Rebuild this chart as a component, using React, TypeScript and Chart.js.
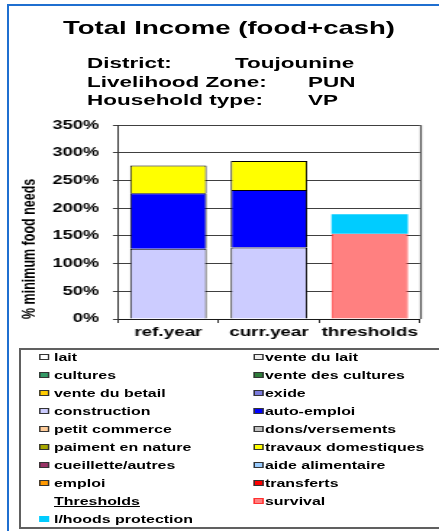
import React, { useEffect, useRef } from "react";
import { Chart, registerables } from "chart.js";

Chart.register(...registerables);

// ---------- data ----------
const categories = ["ref.year", "curr.year", "thresholds"];

const lait = [0, 0, 0];
const venteDuLait = [0, 0, 0];
const cultures = [0, 0, 0];
const venteDesCultures = [0, 0, 0];
const venteDuBetail = [0, 0, 0];
const exide = [0, 0, 0];
const construction = [127, 129, 0];
const autoEmploi = [100, 104, 0];
const petitCommerce = [0, 0, 0];
const donsVersements = [0, 0, 0];
const paimentEnNature = [0, 0, 0];
const travauxDomestiques = [50, 52, 0];
const cueilletteAutres = [0, 0, 0];
const aideAlimentaire = [0, 0, 0];
const emploi = [0, 0, 0];
const transferts = [0, 0, 0];
const thresholdsHeader = [0, 0, 0];
const survival = [0, 0, 154];
const lhoodsProtection = [0, 0, 35];

const yTickValues = [0, 50, 100, 150, 200, 250, 300, 350];

const titleText = "Total Income (food+cash)";
const infoLabels = ["District:", "Livelihood Zone:", "Household type:"];
const infoValues = ["Toujounine", "PUN", "VP"];
const yAxisTitle = "% minimum food needs";

type Series = {
  name: string;
  data: number[];
  fill: string;
  border: string;
  header?: boolean;
  noMarkerBorder?: boolean;
};

const series: Series[] = [
  { name: "lait", data: lait, fill: "#FFFFFF", border: "#000000" },
  { name: "vente du lait", data: venteDuLait, fill: "#EDEDED", border: "#333333" },
  { name: "cultures", data: cultures, fill: "#339966", border: "#222222" },
  { name: "vente des cultures", data: venteDesCultures, fill: "#2E7D3A", border: "#222222" },
  { name: "vente du betail", data: venteDuBetail, fill: "#FFCC00", border: "#333333" },
  { name: "exide", data: exide, fill: "#7B7BDD", border: "#333333" },
  { name: "construction", data: construction, fill: "#CCCCFF", border: "#000000" },
  { name: "auto-emploi", data: autoEmploi, fill: "#0000FF", border: "#000000" },
  { name: "petit commerce", data: petitCommerce, fill: "#FFCC99", border: "#333333" },
  { name: "dons/versements", data: donsVersements, fill: "#C0C0C0", border: "#222222" },
  { name: "paiment en nature", data: paimentEnNature, fill: "#A8A800", border: "#222222" },
  { name: "travaux domestiques", data: travauxDomestiques, fill: "#FFFF00", border: "#000000" },
  { name: "cueillette/autres", data: cueilletteAutres, fill: "#993366", border: "#222222" },
  { name: "aide alimentaire", data: aideAlimentaire, fill: "#99CCFF", border: "#333333" },
  { name: "emploi", data: emploi, fill: "#FF9900", border: "#333333" },
  { name: "transferts", data: transferts, fill: "#FF0000", border: "#222222" },
  { name: "Thresholds", data: thresholdsHeader, fill: "rgba(0,0,0,0)", border: "rgba(0,0,0,0)", header: true },
  { name: "survival", data: survival, fill: "#FF8080", border: "#FF2020" },
  { name: "l/hoods protection", data: lhoodsProtection, fill: "#00CCFF", border: "#00CCFF", noMarkerBorder: true },
];

// ---------- layout helpers ----------
const IW = 303; // internal (unstretched) width
const S = 439 / IW; // horizontal stretch of the whole figure
const px = (pageX: number) => pageX / S;
const FONT = '"Liberation Sans", Arial, Helvetica, sans-serif';

const CANVAS_TOP = 108;
const CANVAS_H = 232;

const rightBorder = {
  id: "rightBorder",
  afterDatasetsDraw(chart: any) {
    const { ctx, chartArea } = chart;
    ctx.save();
    ctx.strokeStyle = "#555555";
    ctx.lineWidth = 1.3;
    ctx.beginPath();
    const x = Math.round(chartArea.right) + 0.5;
    ctx.moveTo(x, chartArea.top);
    ctx.lineTo(x, chartArea.bottom);
    ctx.stroke();
    ctx.restore();
  },
};

export default function App() {
  const canvasRef = useRef<HTMLCanvasElement | null>(null);

  useEffect(() => {
    const canvas = canvasRef.current;
    if (!canvas) return;
    const datasets = series.map((s) => {
      const hasData = s.data.some((v) => v !== 0);
      let borderWidth: any = hasData ? 1 : 0;
      if (s.name === "survival") borderWidth = { top: 0, left: 1, right: 1, bottom: 0 };
      if (s.name === "l/hoods protection") borderWidth = 0;
      return {
        label: s.name,
        data: s.data,
        backgroundColor: s.fill,
        borderColor: s.border,
        borderWidth,
        barPercentage: 0.76,
        categoryPercentage: 1,
        stack: "income",
      };
    });

    const chart = new Chart(canvas, {
      type: "bar",
      data: { labels: categories, datasets },
      options: {
        animation: false,
        responsive: false,
        devicePixelRatio: 1,
        layout: { padding: { left: 10, right: IW - px(420), top: 13, bottom: 0 } },
        plugins: {
          legend: { display: false },
          tooltip: { enabled: false },
          title: { display: false },
        },
        scales: {
          x: {
            stacked: true,
            grid: {
              offset: true,
              drawOnChartArea: false,
              drawTicks: true,
              tickLength: 4,
              color: "#333333",
            },
            border: { color: "#1a1a1a", width: 1 },
            ticks: {
              font: { family: FONT, size: 13, weight: "bold" },
              color: "#000",
              padding: 1.5,
              maxRotation: 0,
              autoSkip: false,
            },
            afterFit: (s: any) => {
              s.height = 21;
            },
          },
          y: {
            stacked: true,
            min: 0,
            max: 350,
            afterBuildTicks: (s: any) => {
              s.ticks = yTickValues.map((v) => ({ value: v }));
            },
            ticks: {
              callback: (v: any) => `${v}%`,
              font: { family: FONT, size: 12.5, weight: "bold" },
              color: "#000",
              padding: 9.6,
            },
            grid: { color: "#404040", lineWidth: 1, tickLength: 3.5 },
            border: { color: "#333333", width: 1 },
            title: {
              display: true,
              text: yAxisTitle,
              align: "start",
              font: { family: FONT, size: 12.5, weight: "bold" },
              color: "#000",
              padding: { top: 3, bottom: 0 },
            },
            afterFit: (s: any) => {
              s.width = px(118) - 10;
            },
          },
        },
      } as any,
      plugins: [rightBorder],
    });
    return () => chart.destroy();
  }, []);

  const rowY = (i: number) => 357.2 + 17.95 * i;

  return (
    <div
      style={{
        position: "absolute",
        left: 0,
        top: 0,
        width: 439,
        height: 531,
        overflow: "hidden",
        background: "#fff",
      }}
    >
      {/* blue outer frame (continues past the right and bottom edges) */}
      <div
        style={{
          position: "absolute",
          left: 7,
          top: 4,
          width: 520,
          height: 600,
          border: "2px solid #1F6FD0",
          boxSizing: "border-box",
        }}
      />
      {/* legend box (continues past the right edge) */}
      <div
        style={{
          position: "absolute",
          left: 19,
          top: 347.5,
          width: 460,
          height: 181.5,
          border: "2px solid #606060",
          boxSizing: "border-box",
        }}
      />
      {/* stretched content */}
      <div
        style={{
          position: "absolute",
          left: 0,
          top: 0,
          width: IW,
          height: 531,
          transform: `scaleX(${S})`,
          transformOrigin: "0 0",
          fontFamily: FONT,
          fontWeight: "bold",
          color: "#000",
        }}
      >
        <div
          style={{
            position: "absolute",
            left: px(229) - IW / 2,
            top: 18.2,
            width: IW,
            textAlign: "center",
            fontSize: 19,
            lineHeight: "19px",
            whiteSpace: "nowrap",
          }}
        >
          {titleText}
        </div>
        {infoLabels.map((lab, i) => {
          const tops = [55.2, 73.6, 92.2];
          const valueX = [235, 308, 308];
          return (
            <React.Fragment key={lab}>
              <div
                style={{
                  position: "absolute",
                  left: px(87),
                  top: tops[i],
                  fontSize: 15.5,
                  lineHeight: "15.5px",
                  whiteSpace: "nowrap",
                }}
              >
                {lab}
              </div>
              <div
                style={{
                  position: "absolute",
                  left: px(valueX[i]),
                  top: tops[i],
                  fontSize: 15.5,
                  lineHeight: "15.5px",
                  whiteSpace: "nowrap",
                }}
              >
                {infoValues[i]}
              </div>
            </React.Fragment>
          );
        })}
        <canvas
          ref={canvasRef}
          width={IW}
          height={CANVAS_H}
          style={{ position: "absolute", left: 0, top: CANVAS_TOP, width: IW, height: CANVAS_H }}
        />
        {series.map((s, i) => {
          const row = Math.floor(i / 2);
          const col = i % 2;
          const y = rowY(row);
          const markerX = col === 0 ? px(39.5) : px(253.3);
          const textX = col === 0 ? px(54) : px(265);
          return (
            <React.Fragment key={s.name}>
              {!s.header && (
                <div
                  style={{
                    position: "absolute",
                    left: markerX,
                    top: y - 3,
                    width: px(10.5),
                    height: 6,
                    background: s.fill,
                    border: s.noMarkerBorder ? "none" : `1px solid ${s.name === "survival" ? "#FF3030" : "#333"}`,
                    boxSizing: "border-box",
                  }}
                />
              )}
              <div
                style={{
                  position: "absolute",
                  left: textX,
                  top: y - 7,
                  height: 14,
                  fontSize: 11,
                  lineHeight: "14px",
                  whiteSpace: "nowrap",
                  textDecoration: s.header ? "underline" : "none",
                }}
              >
                {s.name}
              </div>
            </React.Fragment>
          );
        })}
      </div>
    </div>
  );
}
